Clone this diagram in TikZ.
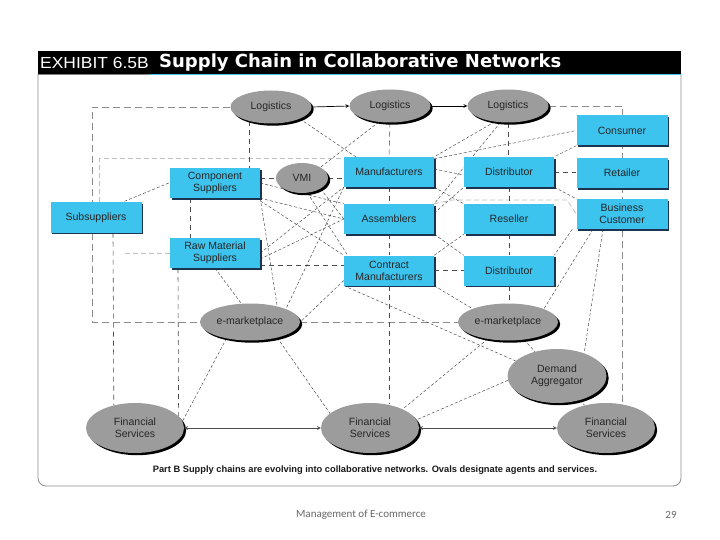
\documentclass[tikz,border=0pt]{standalone}
\usepackage{fontspec}
\setmainfont{Liberation Sans}
\newfontfamily\slidefont{Carlito}
\newfontfamily\headfont{DejaVu Sans}
\usetikzlibrary{shapes.geometric,shadows,backgrounds}
\definecolor{boxcyan}{HTML}{3CC3EE}
\definecolor{boxedge}{HTML}{1B3550}
\definecolor{ovalgray}{HTML}{9C9C9C}

\begin{document}
\begin{tikzpicture}[x=1pt,y=1pt,
  box/.style={rectangle,fill=boxcyan,minimum width=90pt,minimum height=30pt,inner sep=1pt,align=center,
    text=black!85,font=\fontsize{10.5}{12}\selectfont,
    drop shadow={shadow xshift=1.6pt,shadow yshift=-1.6pt,fill=boxedge,opacity=1}},
  oval/.style={ellipse,fill=ovalgray,inner sep=0pt,align=center,text=black!85,
    font=\fontsize{10.5}{12}\selectfont,
    drop shadow={shadow xshift=2.2pt,shadow yshift=-2.2pt,fill=black,opacity=1}},
  link/.style={draw=black!80,line width=0.4pt,dash pattern=on 3pt off 2pt},
  trunk/.style={draw=black!70,line width=0.6pt,dash pattern=on 5pt off 4pt},
  ring/.style={draw=black!45,line width=0.7pt,dash pattern=on 7pt off 4pt},
  faint/.style={draw=black!25,line width=0.8pt,dash pattern=on 5pt off 3pt}]
\useasboundingbox (0,0) rectangle (720,-540);

\draw[black!45,line width=0.8pt,rounded corners=8pt] (38,-74) -- (38,-486) -- (681,-486) -- (681,-74);
\fill[black] (38,-51) rectangle (681,-74);
\draw[black!50,line width=1pt] (38,-74.5) -- (150,-74.5);
\draw[boxcyan,line width=1pt] (150,-74.5) -- (681,-74.5);
\node[anchor=west,inner sep=0pt,text=white,font=\fontsize{16}{16}\selectfont] (exh) at (40,-63) {\scalebox{1.09}[1]{EXHIBIT 6.5B}};
\node[anchor=west,inner sep=0pt,text=white,font=\headfont\fontsize{18}{19}\selectfont\bfseries] (ttl) at (159,-63) {Supply Chain in Collaborative Networks};

\node[oval,minimum width=81pt,minimum height=33pt] (log1) at (271,-107) {Logistics};
\node[oval,minimum width=81pt,minimum height=33pt] (log2) at (390,-106) {Logistics};
\node[oval,minimum width=81pt,minimum height=33pt] (log3) at (508,-106) {Logistics};
\node[oval,minimum width=52pt,minimum height=30pt] (vmi) at (302,-178) {VMI};

\node[box] (comp) at (215,-183) {Component\\Suppliers};
\node[box] (raw) at (215,-253) {Raw Material\\Suppliers};
\node[box,minimum width=91pt] (subs) at (96,-217.5) {Subsuppliers};
\node[box] (manu) at (389,-172) {Manufacturers};
\node[box] (asm) at (389,-219) {Assemblers};
\node[box] (cman) at (389,-270.5) {Contract\\Manufacturers};
\node[box] (dist) at (509,-172) {Distributor};
\node[box] (resl) at (509,-219) {Reseller};
\node[box] (dist2) at (509,-270.5) {Distributor};
\node[box,minimum width=91pt] (cons) at (622,-130.5) {Consumer};
\node[box,minimum width=91pt] (reta) at (622,-173) {Retailer};
\node[box,minimum width=91pt] (bcus) at (622,-214) {Business\\Customer};

\node[oval,minimum width=100pt,minimum height=37pt] (emkl) at (250,-322) {e-marketplace};
\node[oval,minimum width=100pt,minimum height=37pt] (emkr) at (508,-322) {e-marketplace};
\node[oval,minimum width=99pt,minimum height=54pt] (dagg) at (557,-376) {Demand\\Aggregator};
\node[oval,minimum width=98pt,minimum height=50pt] (finl) at (135,-428) {Financial\\Services};
\node[oval,minimum width=98pt,minimum height=50pt] (finm) at (370,-428) {Financial\\Services};
\node[oval,minimum width=98pt,minimum height=50pt] (finr) at (606,-428) {Financial\\Services};

\coordinate (rawend) at (122,-253);

\begin{scope}[on background layer]
\draw[ring] (log1.west) -- (92,-107) -- (92,-322) -- (emkl.west);
\draw[ring] (emkl.east) -- (emkr.west);
\draw[ring] (log3.east) -| (finr.55);
\draw[faint] ([xshift=49pt]subs.north west) |- ([yshift=-2pt]manu.north west);
\draw[faint] (raw.west) -- (rawend);
\draw[faint] (asm.north east) -- (452,-200) -- (567,-200) -- (bcus.west);

\draw[trunk] ([xshift=17pt]subs.south) -- (finl.133);
\draw[trunk] ([xshift=-37pt]raw.south) -- (finl.15);
\draw[trunk] ([xshift=-25pt]comp.south) -- ([xshift=-25pt]raw.north);
\draw[trunk] (log1.213) -- (log1.213 |- comp.north);
\draw[trunk] (comp.east |- vmi.west) -- (vmi.west);
\draw[trunk] (vmi.east) -- (vmi.east -| manu.west);
\draw[trunk] (log2.south) -- (manu.north);
\draw[trunk] (manu.south) -- (asm.north);
\draw[trunk] (asm.south) -- (cman.north);
\draw[trunk] (cman.south) -- (cman.south |- finm.north);
\draw[trunk] (log3.south) -- (log3.south |- dist.north);
\draw[trunk] (dist.south) -- (resl.north);
\draw[trunk] (resl.south) -- (dist2.north);
\draw[trunk] (dist2.south) -- (dist2.south |- emkr.north);
\draw[trunk] (cman.east) -- (dist2.west);
\draw[trunk] (dist.east) -- (dist.east -| reta.west);
\draw[trunk] ([yshift=-12pt]raw.east) -- ([yshift=-12pt]raw.east -| cman.west);

\draw[link] ([xshift=-1pt]comp.west) -- ([xshift=26pt]subs.north);
\draw[link] (log1.south east) -- ([xshift=12pt]manu.north west);
\draw[link] (log2.235) -- (vmi.north east);
\draw[link] (log3.230) -- (manu.north east);
\draw[link] (log3.245) -- (asm.north east);
\draw[link] ([yshift=-2pt]manu.north east) -- (cons.west);
\draw[link] ([yshift=3pt]manu.east) -- ([yshift=-3pt]dist.west);
\draw[link] (manu.south east) -- (resl.north west);
\draw[link] ([yshift=6pt]asm.east) -- (dist.south west);
\draw[link] (asm.south east) -- (dist2.north west);
\draw[link] (cman.north east) -- (resl.south west);
\draw[link] (cons.south west) -- (dist.north east);
\draw[link] (dist.south east) -- (bcus.north west);
\draw[link] ([xshift=-4pt]bcus.south west) -- (dist2.north east);
\draw[link] ([xshift=-29pt]bcus.south) -- (emkr.20);
\draw[link] ([xshift=-19pt]bcus.south) -- (dagg.40);
\draw[link] (emkr) -- (dagg);
\draw[link] (emkr.220) -- (finm.30);
\draw[link] (dagg.185) -- (finm.10);
\draw[link] (dagg) -- (finr);
\draw[link] (cman.south east) -- (emkr.north west);
\draw[link] (cman.south west) -- (dagg.160);
\draw[link] (vmi.south east) -- (asm.west);
\draw[link] (vmi.290) -- ([xshift=4pt]cman.north west);
\draw[link] (comp.east) -- (asm.north west);
\draw[link] (comp.south east) -- (asm.west);
\draw[link] ([xshift=-4pt]comp.south east) -- (cman.north west);
\draw[link] (comp.south east) -- (emkl.30);
\draw[link] (raw.east) -- (manu.south west);
\draw[link] ([yshift=-6pt]raw.east) -- (asm.west);
\draw[link] (raw.south) -- (emkl.115);
\draw[link] (manu.south west) -- (emkl.20);
\draw[link] ([yshift=-10pt]cman.west) -- (emkl.east);
\draw[link] (emkl.215) -- (finl.8);
\draw[link] (emkl.330) -- (finm.160);
\end{scope}

\draw[->,>=stealth,line width=0.7pt] (log1.east) -- (log2.west);
\draw[->,>=stealth,line width=0.7pt] (log2.east) -- (log3.west);
\draw[<->,>=stealth,black!70,line width=0.7pt] (finl.east) -- (finm.west);
\draw[<->,>=stealth,black!70,line width=0.7pt] (finm.east) -- (finr.west);

\node[font=\fontsize{9.3}{11}\selectfont\bfseries,text=black!90] (cap) at (375,-470) {Part B Supply chains are evolving into collaborative networks. Ovals designate agents and services.};
\node[font=\slidefont\fontsize{11}{12}\selectfont,text=black!60] (foot) at (361,-515) {Management of E-commerce};
\node[font=\slidefont\fontsize{11}{12}\selectfont,text=black!60] (pg) at (671,-515) {29};
\end{tikzpicture}
\end{document}
